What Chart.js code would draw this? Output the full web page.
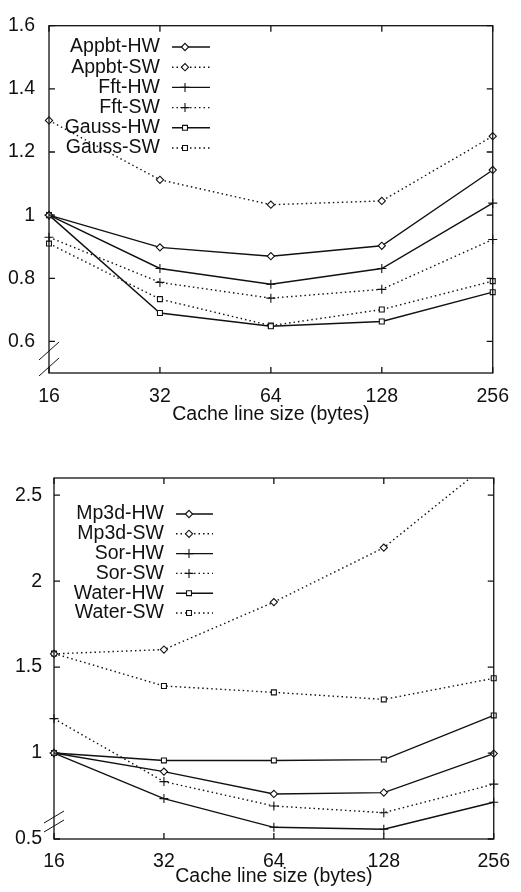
<!DOCTYPE html>
<html>
<head>
<meta charset="utf-8">
<script src="https://cdn.jsdelivr.net/npm/chart.js@4.4.1/dist/chart.umd.min.js"></script>
<style>
  html, body { margin: 0; padding: 0; background: #fff; }
  #wrap { position: relative; width: 521px; height: 892px; }
  .box { position: absolute; left: 0; width: 521px; }
  #box1 { top: 0; height: 440px; }
  #box2 { top: 440px; height: 452px; }
</style>
</head>
<body>
<div id="wrap">
  <div class="box" id="box1"><canvas id="chartTop"></canvas></div>
  <div class="box" id="box2"><canvas id="chartBottom"></canvas></div>
</div>
<script>
// cache line sizes (bytes), log2 spaced
const lineSizes = ['16', '32', '64', '128', '256'];

// top plot
const appbtHW = [1.0, 0.898, 0.870, 0.903, 1.143];
const appbtSW = [1.30, 1.112, 1.033, 1.045, 1.25];
const fftHW   = [1.0, 0.831, 0.781, 0.831, 1.038];
const fftSW   = [0.930, 0.787, 0.737, 0.765, 0.923];
const gaussHW = [1.0, 0.690, 0.648, 0.663, 0.756];
const gaussSW = [0.910, 0.734, 0.650, 0.701, 0.791];
const yTicksTop = [0.6, 0.8, 1, 1.2, 1.4, 1.6];

// bottom plot
const mp3dHW  = [1.0, 0.892, 0.762, 0.770, 0.997];
const mp3dSW  = [1.577, 1.602, 1.878, 2.195, 2.71];
const sorHW   = [1.0, 0.735, 0.568, 0.557, 0.714];
const sorSW   = [1.20, 0.834, 0.692, 0.653, 0.819];
const waterHW = [1.0, 0.957, 0.957, 0.962, 1.219];
const waterSW = [1.579, 1.39, 1.353, 1.312, 1.435];
const yTicksBottom = [0.5, 1, 1.5, 2, 2.5];

const ink = '#111';
const fontFamily = '"Liberation Sans", Arial, Helvetica, sans-serif';
const fontSize = 19.5;

const markerSize = { rectRot: 3.6, cross: 4.5, rect: 3.5 };

function series(label, data, marker, dotted) {
    return {
        label: label,
        data: data,
        borderColor: ink,
        borderWidth: dotted ? 1.4 : 1.4,
        borderDash: dotted ? [1.5, 3] : [],
        pointStyle: marker,
        pointRadius: markerSize[marker],
        pointBackgroundColor: '#fff',
        pointBorderColor: ink,
        pointBorderWidth: 1.1,
        tension: 0,
        fill: false
    };
}

function drawMarker(ctx, style, x, y) {
    const r = markerSize[style];
    ctx.save();
    ctx.setLineDash([]);
    ctx.lineWidth = 1.1;
    ctx.strokeStyle = ink;
    ctx.fillStyle = '#fff';
    ctx.beginPath();
    if (style === 'rectRot') {
        const s = r;
        ctx.moveTo(x - s, y); ctx.lineTo(x, y - s); ctx.lineTo(x + s, y); ctx.lineTo(x, y + s); ctx.closePath();
        ctx.fill(); ctx.stroke();
    } else if (style === 'rect') {
        const s = r * Math.SQRT1_2;
        ctx.rect(x - s, y - s, 2 * s, 2 * s);
        ctx.fill(); ctx.stroke();
    } else {
        ctx.moveTo(x - r, y); ctx.lineTo(x + r, y);
        ctx.moveTo(x, y - r); ctx.lineTo(x, y + r);
        ctx.stroke();
    }
    ctx.restore();
}

// gnuplot style frame, inward ticks, axis break and the key
const gnuplotFrame = {
    id: 'gnuplotFrame',
    afterDatasetsDraw(chart, args, opts) {
        const ctx = chart.ctx;
        const { left, right, top, bottom } = chart.chartArea;
        const xs = chart.scales.x, ys = chart.scales.y;
        ctx.save();
        ctx.strokeStyle = ink;
        ctx.lineWidth = 1.3;
        ctx.setLineDash([]);
        ctx.strokeRect(left, top, right - left, bottom - top);

        ctx.beginPath();
        ys.ticks.forEach(t => {
            const y = ys.getPixelForValue(t.value);
            ctx.moveTo(left, y); ctx.lineTo(left + 6, y);
            ctx.moveTo(right - 6, y); ctx.lineTo(right, y);
        });
        xs.ticks.forEach((t, i) => {
            const x = xs.getPixelForTick(i);
            ctx.moveTo(x, top); ctx.lineTo(x, top + 6);
            ctx.moveTo(x, bottom - 6); ctx.lineTo(x, bottom);
        });
        ctx.stroke();

        // axis break marks
        ctx.lineWidth = 1;
        ctx.beginPath();
        opts.breaks.forEach(dy => {
            const cy = bottom - dy;
            ctx.moveTo(left - 10, cy + opts.slant);
            ctx.lineTo(left + 10, cy - opts.slant);
        });
        ctx.stroke();

        // key
        const k = opts.key;
        ctx.font = fontSize + 'px ' + fontFamily;
        ctx.fillStyle = ink;
        ctx.textAlign = 'right';
        ctx.textBaseline = 'middle';
        chart.data.datasets.forEach((ds, i) => {
            const y = k.top + i * k.step;
            ctx.fillText(ds.label, k.textRight, y);
            ctx.beginPath();
            ctx.lineWidth = ds.borderWidth;
            ctx.setLineDash(ds.borderDash);
            ctx.moveTo(k.lineFrom, y);
            ctx.lineTo(k.lineTo, y);
            ctx.stroke();
            drawMarker(ctx, ds.pointStyle, k.marker, y);
        });
        ctx.restore();
    }
};

function makeOptions(cfg) {
    return {
        responsive: true,
        maintainAspectRatio: false,
        animation: false,
        layout: { padding: { top: cfg.padTop, right: cfg.padRight, left: 0, bottom: 0 } },
        plugins: {
            legend: { display: false },
            tooltip: { enabled: false },
            gnuplotFrame: { breaks: cfg.breaks, slant: cfg.slant, key: cfg.key }
        },
        scales: {
            x: {
                type: 'category',
                offset: false,
                grid: { display: false, drawTicks: false },
                border: { display: false },
                ticks: { color: ink, font: { family: fontFamily, size: fontSize }, padding: cfg.xTickPad, maxRotation: 0 },
                title: {
                    display: true,
                    text: 'Cache line size (bytes)',
                    color: ink,
                    font: { family: fontFamily, size: fontSize },
                    padding: { top: 0, bottom: cfg.titlePad }
                },
                afterFit: scale => { scale.height = cfg.xHeight; }
            },
            y: {
                min: cfg.yMin,
                max: cfg.yMax,
                grid: { display: false, drawTicks: false },
                border: { display: false },
                afterBuildTicks: scale => { scale.ticks = cfg.yTicks.map(v => ({ value: v })); },
                ticks: {
                    color: ink,
                    font: { family: fontFamily, size: fontSize },
                    padding: cfg.yTickPad,
                    callback: v => String(v)
                },
                afterFit: scale => { scale.width = cfg.yWidth; }
            }
        }
    };
}

new Chart(document.getElementById('chartTop'), {
    type: 'line',
    data: {
        labels: lineSizes,
        datasets: [
            series('Appbt-HW', appbtHW, 'rectRot', false),
            series('Appbt-SW', appbtSW, 'rectRot', true),
            series('Fft-HW', fftHW, 'cross', false),
            series('Fft-SW', fftSW, 'cross', true),
            series('Gauss-HW', gaussHW, 'rect', false),
            series('Gauss-SW', gaussSW, 'rect', true)
        ]
    },
    options: makeOptions({
        padTop: 15, padRight: 22, yWidth: 49, xHeight: 67,
        xTickPad: 12, titlePad: 14, yTickPad: 14,
        yMin: 0.5, yMax: 1.6, yTicks: yTicksTop,
        breaks: [22, 6], slant: 9,
        key: { textRight: 160, lineFrom: 172, lineTo: 210, marker: 185, top: 47, step: 20.2 }
    }),
    plugins: [gnuplotFrame]
});

new Chart(document.getElementById('chartBottom'), {
    type: 'line',
    data: {
        labels: lineSizes,
        datasets: [
            series('Mp3d-HW', mp3dHW, 'rectRot', false),
            series('Mp3d-SW', mp3dSW, 'rectRot', true),
            series('Sor-HW', sorHW, 'cross', false),
            series('Sor-SW', sorSW, 'cross', true),
            series('Water-HW', waterHW, 'rect', false),
            series('Water-SW', waterSW, 'rect', true)
        ]
    },
    options: makeOptions({
        padTop: 38, padRight: 19, yWidth: 54, xHeight: 53,
        xTickPad: 11, titlePad: 4, yTickPad: 12,
        yMin: 0.5, yMax: 2.6, yTicks: yTicksBottom,
        breaks: [22, 13], slant: 6,
        key: { textRight: 164, lineFrom: 176, lineTo: 213, marker: 189, top: 74, step: 19.8 }
    }),
    plugins: [gnuplotFrame]
});
</script>
</body>
</html>
